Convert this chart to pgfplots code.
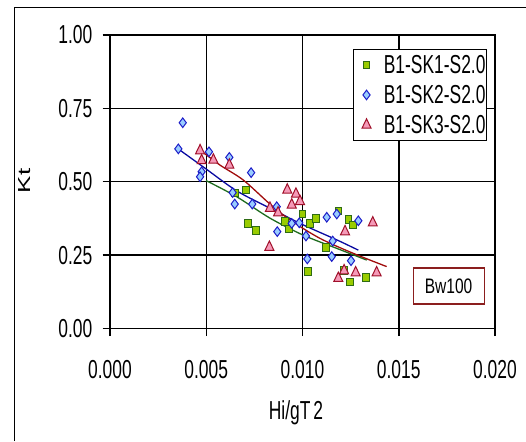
\documentclass[border=0pt]{standalone}
\usepackage{pgfplots}
\pgfplotsset{compat=1.18}
\usepackage{fontspec}
\setmainfont{Liberation Sans}
\usepackage{graphicx}
\definecolor{gfill}{HTML}{99CC00}
\definecolor{gdraw}{HTML}{2E6B14}
\definecolor{bfill}{HTML}{99CCFF}
\definecolor{bdraw}{HTML}{1C1CC8}
\definecolor{rfill}{HTML}{F59AB8}
\definecolor{rdraw}{HTML}{A0102A}
\definecolor{gline}{HTML}{1E6B1E}
\definecolor{bline}{HTML}{0A0AA0}
\definecolor{rline}{HTML}{A00C0C}
\definecolor{bwred}{HTML}{8B1E1E}
\newcommand\tl[1]{\scalebox{0.67}[1]{\fontsize{26}{26}\selectfont #1}}
\begin{document}
\begin{tikzpicture}
\useasboundingbox (0,0) rectangle (526pt,441pt);
\draw[line width=1pt] (14pt,0pt) -- (14pt,433pt) -- (526pt,433pt);
\begin{axis}[
  at={(110pt,112.5pt)}, anchor=south west,
  scale only axis, width=385pt, height=293.5pt,
  xmin=0, xmax=0.02, ymin=0, ymax=1,
  xtick={0,0.005,0.01,0.015,0.02},
  xticklabels={\tl{0.000},\tl{0.005},\tl{0.010},\tl{0.015},\tl{0.020}},
  ytick={0,0.25,0.5,0.75,1},
  yticklabels={\tl{0.00},\tl{0.25},\tl{0.50},\tl{0.75},\tl{1.00}},
  scaled x ticks=false,
  xtick pos=left, ytick pos=left,
  tick align=outside, major tick length=7.5pt,
  grid=major, major grid style={black, line width=1.5pt},
  axis line style={black, line width=1.8pt},
  tick style={black, line width=1.5pt},
  xticklabel style={anchor=center, inner sep=0pt, yshift=-34pt},
  yticklabel style={anchor=east, inner sep=0pt, xshift=-10pt},
  xlabel={\tl{Hi/gT\,2}},
  xlabel style={at={(rel axis cs:0.483,-0.288)}, anchor=center, inner sep=0pt},
  ylabel={\scalebox{1}[0.67]{\fontsize{26}{26}\selectfont Kt}},
  ylabel style={at={(rel axis cs:-0.223,0.503)}, anchor=center, inner sep=0pt, rotate=0},
  legend style={at={(rel axis cs:0.631,0.952)}, anchor=north west,
    draw=black, line width=1pt, fill=white,
    inner xsep=1pt, inner ysep=5.5pt, row sep=10.4pt, column sep=12.8pt,
    nodes={inner sep=0pt}},
  legend cell align=left,
  legend image code/.code={\draw[#1, line width=0.9pt] plot coordinates {(0pt,0pt)}; \path (-11.6pt,0pt) (2.6pt,0pt);},
]
\addplot[only marks, mark=square*, mark size=3.3pt, mark options={fill=gfill, draw=gdraw, line width=1pt, yscale=1.15}] table {
0.00705 0.472
0.00649 0.461
0.00718 0.358
0.00758 0.333
0.00909 0.364
0.00931 0.339
0.01000 0.390
0.01039 0.358
0.01069 0.375
0.01187 0.401
0.01238 0.372
0.01262 0.353
0.01122 0.275
0.01030 0.194
0.01217 0.198
0.01247 0.159
0.01330 0.174
};
\addlegendentry{\tl{B1-SK1-S2.0}}
\addplot[only marks, mark=diamond*, mark size=4.8pt, mark options={fill=bfill, draw=bdraw, line width=1pt}] table {
0.00378 0.701
0.00355 0.612
0.00514 0.602
0.00620 0.583
0.00733 0.531
0.00476 0.534
0.00468 0.517
0.00637 0.463
0.00648 0.424
0.00739 0.424
0.00866 0.415
0.00869 0.330
0.00944 0.358
0.00983 0.360
0.01018 0.315
0.01126 0.379
0.01178 0.390
0.01290 0.367
0.01025 0.237
0.01152 0.245
0.01252 0.231
0.01157 0.298
};
\addlegendentry{\tl{B1-SK2-S2.0}}
\addplot[only marks, mark=triangle*, mark size=5.2pt, mark options={fill=rfill, draw=rdraw, line width=1pt, yscale=1.2}] table {
0.00468 0.606
0.00476 0.572
0.00537 0.574
0.00620 0.557
0.00831 0.410
0.00873 0.394
0.00828 0.277
0.00921 0.472
0.00966 0.458
0.00944 0.421
0.00987 0.433
0.01221 0.330
0.01365 0.360
0.01216 0.197
0.01186 0.171
0.01276 0.190
0.01385 0.190
};
\addlegendentry{\tl{B1-SK3-S2.0}}
\addplot[gline, line width=1.3pt, smooth, forget plot] table {
0.00499 0.504
0.00658 0.449
0.00831 0.376
0.01004 0.318
0.01178 0.273
0.01334 0.233
};
\addplot[bline, line width=1.3pt, smooth, forget plot] table {
0.00350 0.614
0.00494 0.546
0.00658 0.469
0.00831 0.410
0.01004 0.353
0.01178 0.302
0.01290 0.267
};
\addplot[rline, line width=1.3pt, smooth, forget plot] table {
0.00468 0.608
0.00571 0.557
0.00692 0.506
0.00831 0.424
0.00935 0.370
0.01091 0.307
0.01264 0.256
0.01437 0.211
};
\node[draw=bwred, line width=1.2pt, fill=white, minimum width=71pt, minimum height=36pt, inner sep=0pt] at (axis cs:0.01759,0.1448) {\scalebox{0.74}[1]{\fontsize{21}{21}\selectfont Bw100}};
\end{axis}
\end{tikzpicture}
\end{document}
